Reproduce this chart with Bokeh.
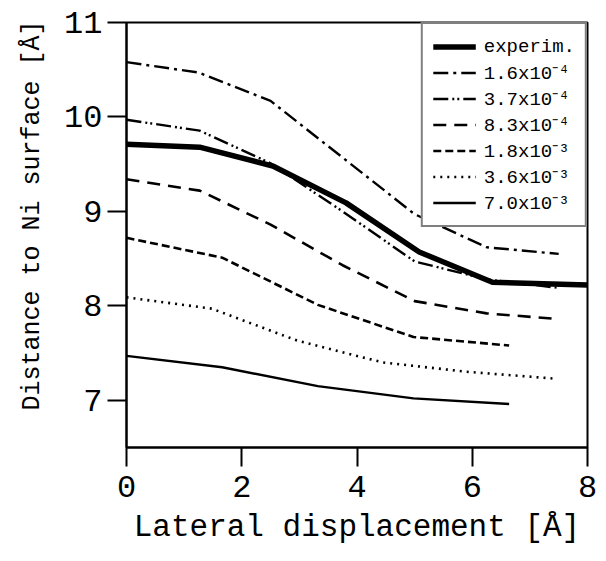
from bokeh.plotting import figure
from bokeh.models import Range1d, Legend, LegendItem, FixedTicker, Title
from bokeh.embed import file_html
from bokeh.resources import INLINE

# ---- data ----
x_exp = [0.0, 1.27, 2.54, 3.81, 5.08, 6.35, 8.0]
y_exp = [9.71, 9.68, 9.48, 9.09, 8.57, 8.25, 8.22]

x_16e4 = [0.0, 1.25, 2.5, 3.75, 5.0, 6.25, 7.5]
y_16e4 = [10.58, 10.47, 10.17, 9.57, 8.97, 8.62, 8.55]

x_37e4 = [0.0, 1.27, 2.5, 3.75, 5.0, 6.25, 7.5]
y_37e4 = [9.97, 9.855, 9.51, 9.0, 8.47, 8.28, 8.19]

x_83e4 = [0.0, 1.27, 2.5, 3.75, 5.0, 6.25, 7.5]
y_83e4 = [9.34, 9.22, 8.86, 8.43, 8.05, 7.92, 7.86]

x_18e3 = [0.0, 1.66, 3.32, 4.98, 6.64]
y_18e3 = [8.72, 8.51, 8.01, 7.67, 7.58]

x_36e3 = [0.0, 1.48, 2.97, 4.45, 5.94, 7.42]
y_36e3 = [8.09, 7.97, 7.63, 7.40, 7.30, 7.23]

x_70e3 = [0.0, 1.66, 3.32, 4.98, 6.64]
y_70e3 = [7.47, 7.35, 7.15, 7.02, 6.96]

labels = ["experim.", "1.6x10\u207b\u2074", "3.7x10\u207b\u2074", "8.3x10\u207b\u2074",
          "1.8x10\u207b\u00b3", "3.6x10\u207b\u00b3", "7.0x10\u207b\u00b3"]
x_ticks = [0, 2, 4, 6, 8]
y_ticks = [7, 8, 9, 10, 11]
x_title = "Lateral displacement [\u00c5]"
y_title = "Distance to Ni surface [\u00c5]"

FONT = "Liberation Mono"

p = figure(width=606, height=561, output_backend="svg", toolbar_location=None,
           x_range=Range1d(0, 8), y_range=Range1d(6.5, 11),
           min_border_left=125, min_border_right=19, min_border_top=22, min_border_bottom=114)

p.xgrid.visible = False
p.ygrid.visible = False
p.outline_line_color = "black"
p.outline_line_width = 2
p.background_fill_color = "white"
p.border_fill_color = "white"

series = [
    (x_exp, y_exp, 5.5, None),
    (x_16e4, y_16e4, 2.4, "15 5 3 5"),
    (x_37e4, y_37e4, 2.4, "15 4 2 3 2 4"),
    (x_83e4, y_83e4, 2.6, "13 8"),
    (x_18e3, y_18e3, 2.6, "8 4"),
    (x_36e3, y_36e3, 2.6, "2 5"),
    (x_70e3, y_70e3, 2.4, None),
]
items = []
for (xs, ys, lw, dash), lab in zip(series, labels):
    kw = dict(line_color="black", line_width=lw)
    if dash:
        kw["line_dash"] = dash
    r = p.line(xs, ys, **kw)
    items.append(LegendItem(label=lab, renderers=[r]))

legend = Legend(items=items, location="top_right", margin=0, padding=10,
                spacing=0, label_height=25, glyph_height=25, glyph_width=43,
                label_standoff=8, border_line_color="black", border_line_width=2,
                background_fill_alpha=1.0, label_text_font=FONT,
                label_text_font_size="19px", label_text_color="black")
p.add_layout(legend)

for ax in (p.xaxis[0], p.yaxis[0]):
    ax.axis_line_color = "black"
    ax.axis_line_width = 2
    ax.major_tick_line_width = 2
    ax.major_tick_in = 0
    ax.major_tick_out = 19
    ax.minor_tick_line_color = None
    ax.major_label_text_font = FONT
    ax.major_label_text_font_size = "32px"
    ax.major_label_text_color = "black"
    ax.axis_label_text_font = FONT
    ax.axis_label_text_font_style = "normal"
    ax.axis_label_text_color = "black"

p.xaxis[0].ticker = FixedTicker(ticks=x_ticks)
p.yaxis[0].ticker = FixedTicker(ticks=y_ticks)
p.xaxis[0].axis_label = x_title
p.xaxis[0].axis_label_text_font_size = "31px"
p.xaxis[0].major_label_standoff = 9
p.yaxis[0].major_label_standoff = 5
p.xaxis[0].axis_label_standoff = 10

# y title in the left panel, shifted upward like the reference
ytitle = Title(text=y_title, align="left", offset=37, standoff=30,
               text_font=FONT, text_font_size="25px", text_font_style="normal",
               text_color="black")
p.add_layout(ytitle, "left")

open("out.html", "w").write(file_html(p, INLINE))
